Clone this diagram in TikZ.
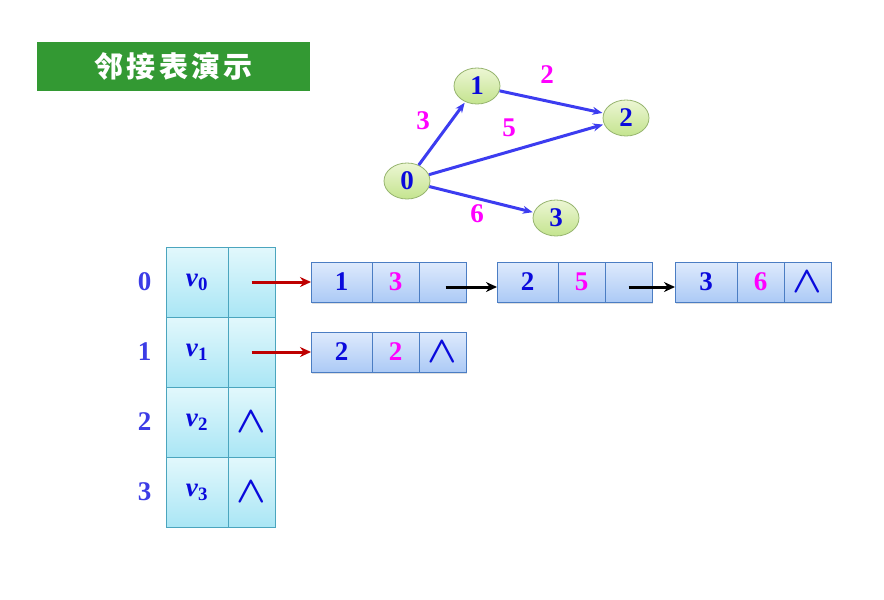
\documentclass[tikz,border=0pt]{standalone}
\usepackage{fontspec}
\usepackage{graphicx}
\setmainfont{Liberation Serif}
\newfontfamily\cjk{Noto Sans CJK SC}
\usetikzlibrary{arrows.meta,shadows,positioning,shapes.geometric}
\definecolor{ttl}{RGB}{51,153,51}
\definecolor{txt}{RGB}{10,10,220}
\definecolor{idx}{RGB}{60,60,230}
\definecolor{wgt}{RGB}{255,0,255}
\definecolor{edg}{RGB}{60,60,240}
\definecolor{ptr}{RGB}{190,0,0}
\definecolor{vtop}{RGB}{236,246,212}
\definecolor{vbot}{RGB}{196,228,142}
\definecolor{vline}{RGB}{150,180,110}
\definecolor{htop}{RGB}{226,248,252}
\definecolor{hbot}{RGB}{170,230,245}
\definecolor{hline}{RGB}{75,165,190}
\definecolor{ltop}{RGB}{222,234,252}
\definecolor{lbot}{RGB}{172,202,246}
\definecolor{lline}{RGB}{75,125,195}
\newcommand{\nilptr}{\raisebox{-1pt}{\scalebox{1.55}[1.5]{$\boldsymbol{\wedge}$}}}
\usepackage{amsmath,amsbsy}

\begin{document}
\begin{tikzpicture}[
      x=1pt, y=-1pt,
      big/.style={font=\fontsize{27}{29}\selectfont\bfseries},
      vert/.style={ellipse, draw=vline, thick, top color=vtop, bottom color=vbot,
        minimum width=46pt, minimum height=36pt, inner sep=0pt, big, text=txt},
      wlab/.style={big, text=wgt},
      arc/.style={-{Stealth[length=10pt,width=8pt]}, line width=3pt, edg, shorten >=1pt},
      hcell/.style={draw=hline, top color=htop, bottom color=hbot, minimum height=70pt,
        inner sep=0pt, outer sep=0pt, big, text=txt},
      lcell/.style={draw=lline, top color=ltop, bottom color=lbot, minimum height=40pt,
        minimum width=47pt, inner sep=0pt, outer sep=0pt, big, text=txt,
        drop shadow={shadow xshift=1pt, shadow yshift=-2pt, opacity=0.25}},
      ilab/.style={big, text=idx},
      link/.style={-{Stealth[length=11pt,width=10pt]}, line width=3pt}
    ]
      \useasboundingbox (0,0) rectangle (884,600);

      % title
      \node[fill=ttl, minimum width=273pt, minimum height=49pt, text=white,
        font=\cjk\bfseries\fontsize{29}{32}\selectfont\addfontfeature{LetterSpace=12}]
        (title) at (173.5,66.5) {邻接表演示};

      % graph
      \node[vert] (g0) at (407,181) {0};
      \node[vert] (g1) at (477,86) {1};
      \node[vert] (g2) at (626,118) {2};
      \node[vert] (g3) at (556,218) {3};

      \draw[arc] (g0) -- (g1);
      \draw[arc] (g1) -- (g2);
      \draw[arc] (g0) -- (g2);
      \draw[arc] (g0) -- (g3);

      \node[wlab] (w01) at (423,121) {3};
      \node[wlab] (w12) at (547,75) {2};
      \node[wlab] (w02) at (509,128) {5};
      \node[wlab] (w03) at (477,214) {6};

      % head table
      \node[hcell, minimum width=62pt, anchor=north west] (h0v) at (166,247) {\textit{v}\textsubscript{0}};
      \node[hcell, minimum width=47pt, right=0pt of h0v] (h0p) {};
      \node[hcell, minimum width=62pt, below=0pt of h0v] (h1v) {\textit{v}\textsubscript{1}};
      \node[hcell, minimum width=47pt, right=0pt of h1v] (h1p) {};
      \node[hcell, minimum width=62pt, below=0pt of h1v] (h2v) {\textit{v}\textsubscript{2}};
      \node[hcell, minimum width=47pt, right=0pt of h2v] (h2p) {\nilptr};
      \node[hcell, minimum width=62pt, below=0pt of h2v] (h3v) {\textit{v}\textsubscript{3}};
      \node[hcell, minimum width=47pt, right=0pt of h3v] (h3p) {\nilptr};

      \node[ilab, left=11pt of h0v] (i0) {0};
      \node[ilab, left=11pt of h1v] (i1) {1};
      \node[ilab, left=11pt of h2v] (i2) {2};
      \node[ilab, left=11pt of h3v] (i3) {3};

      % edge lists
      \node[lcell, minimum width=61pt, anchor=north west] (e01v) at (311,262) {1};
      \node[lcell, right=0pt of e01v, text=wgt] (e01w) {3};
      \node[lcell, right=0pt of e01w] (e01p) {};
      \node[lcell, minimum width=61pt, anchor=north west] (e02v) at (497,262) {2};
      \node[lcell, right=0pt of e02v, text=wgt] (e02w) {5};
      \node[lcell, right=0pt of e02w] (e02p) {};
      \node[lcell, minimum width=62pt, anchor=north west] (e03v) at (675,262) {3};
      \node[lcell, right=0pt of e03v, text=wgt] (e03w) {6};
      \node[lcell, right=0pt of e03w] (e03p) {\nilptr};

      \node[lcell, minimum width=61pt, anchor=north west] (e12v) at (311,332) {2};
      \node[lcell, right=0pt of e12v, text=wgt] (e12w) {2};
      \node[lcell, right=0pt of e12w] (e12p) {\nilptr};

      % pointers
      \draw[link, ptr] (h0p.center) -- (e01v.west);
      \draw[link, ptr] (h1p.center) -- (e12v.west);
      \draw[link] ([xshift=3pt,yshift=-5pt]e01p.center) -- ([yshift=-5pt]e02v.west);
      \draw[link] ([yshift=-5pt]e02p.center) -- ([yshift=-5pt]e03v.west);
    \end{tikzpicture}
\end{document}
